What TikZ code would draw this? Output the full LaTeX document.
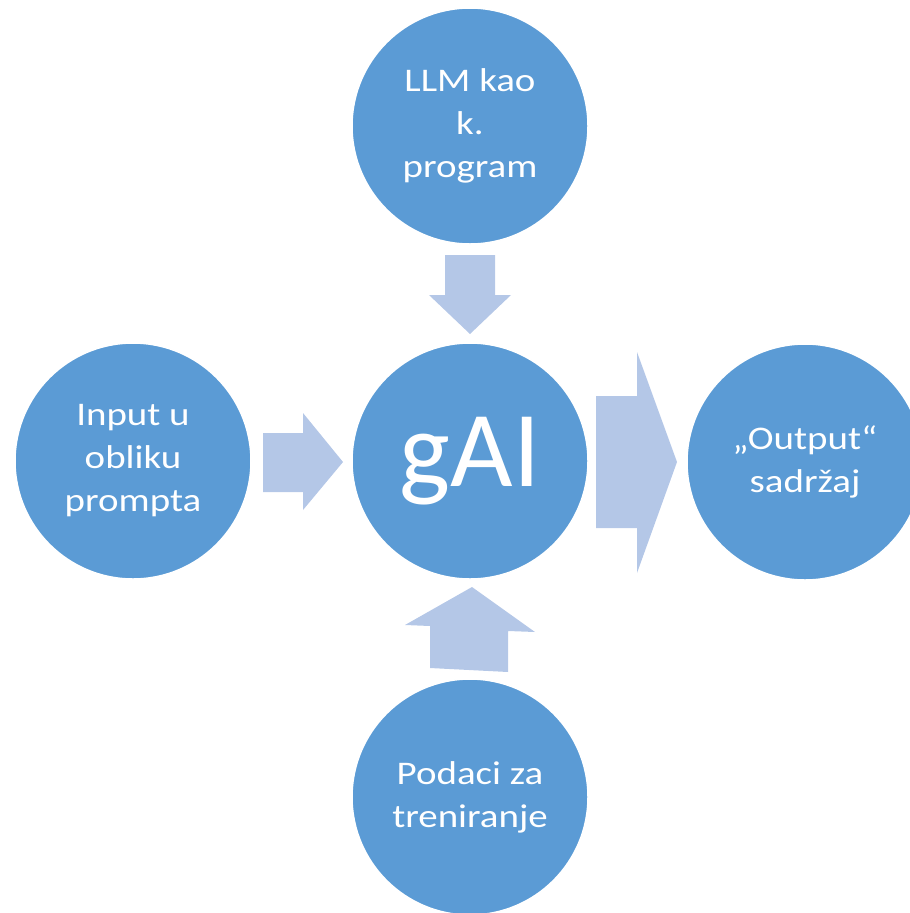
\documentclass[tikz,border=0pt]{standalone}
\usepackage{fontspec}
\setmainfont{Carlito}
\newfontfamily\bubblefont[FakeStretch=1.18]{Carlito}
\usetikzlibrary{positioning}

\definecolor{bubbleblue}{HTML}{5B9BD5}
\definecolor{arrowblue}{HTML}{B4C7E7}

\tikzset{
  bubble/.style={circle, fill=bubbleblue, draw=white, line width=1.5pt,
    minimum size=236pt, inner sep=0pt, text=white, align=center,
    font=\bubblefont\fontsize{33}{43}\selectfont},
  blockarrow/.style={fill=arrowblue}
}

\begin{document}
\begin{tikzpicture}[x=1pt, y=-1pt]

\useasboundingbox (0,0) rectangle (910,913);
\clip (0,0) rectangle (910,913);

\node[bubble] (llm) at (470,126) {LLM kao\\k.\\program};
\node[bubble] (input) at (133,461) {Input u\\obliku\\prompta};
\node[bubble, font=\fontsize{108}{108}\selectfont] (gai) at (470,461) {gAI};
\node[bubble] (output) at (805,462) {„Output“\\sadržaj};
\node[bubble] (podaci) at (470,797) {Podaci za\\treniranje};

% block arrows
\fill[blockarrow] (445,255) -- (495,255) -- (495,295) -- (511,295) -- (470,334)
  -- (429,295) -- (445,295) -- cycle;
\fill[blockarrow] (263,433) -- (303,433) -- (303,413) -- (343,462) -- (303,510)
  -- (303,492) -- (263,492) -- cycle;
\fill[blockarrow] (596,396) -- (637,396) -- (637,352) -- (677,462) -- (637,573)
  -- (637,528) -- (596,528) -- cycle;
\fill[blockarrow] (430,668) -- (430,626) -- (405,625) -- (472,587) -- (535,632)
  -- (508,631) -- (508,672) -- cycle;

\end{tikzpicture}
\end{document}
